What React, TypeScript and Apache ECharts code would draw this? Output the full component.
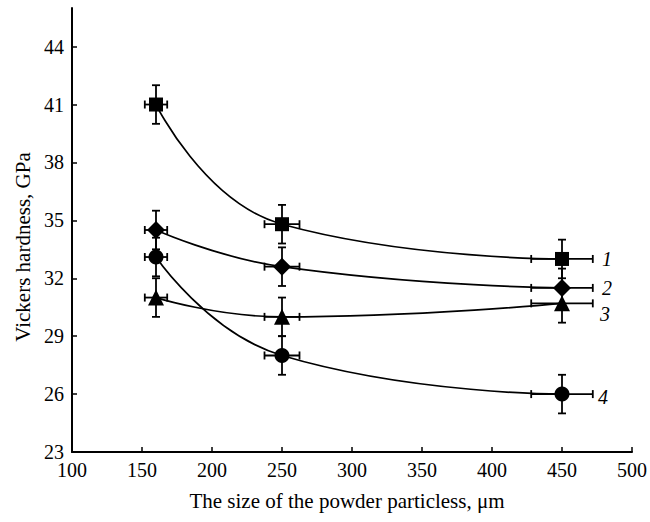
import React, { useEffect, useRef } from "react";
import * as echarts from "echarts";

const sizes = [160, 250, 450];
const sizeErr = [8, 12.5, 22];
const hardness1 = [41, 34.8, 33];
const hardness2 = [34.5, 32.6, 31.5];
const hardness3 = [31, 30, 30.7];
const hardness4 = [33.1, 28, 26];
const hardnessErr = [1, 1, 1];
const curveLabels = ["1", "2", "3", "4"];
const yTicks = [23, 26, 29, 32, 35, 38, 41, 44];

const FONT = "Liberation Serif";

export default function App() {
  const ref = useRef<HTMLDivElement>(null);
  useEffect(() => {
    document.body.style.margin = "0";
    if (!ref.current) return;
    const chart = echarts.init(ref.current, null, { renderer: "svg" });
    const allSeries = [hardness1, hardness2, hardness3, hardness4];
    const symbols = ["rect", "diamond", "triangle", "circle"];
    const symbolSizes: any[] = [14, 18, 16, 15];
    const labelOffsets = [[45, 0], [45, 0], [43, 11], [41, 3]];

    const lineSeries = allSeries.map((vals, si) => ({
      type: "line",
      smooth: 0.5,
      symbol: symbols[si],
      symbolSize: symbolSizes[si],
      z: 3,
      itemStyle: { color: "#000" },
      lineStyle: { color: "#000", width: 1.7 },
      data: vals.map((v, i) =>
        i === vals.length - 1
          ? {
              value: [sizes[i], v],
              label: {
                show: true,
                position: "inside",
                offset: labelOffsets[si],
                formatter: curveLabels[si],
                fontFamily: FONT,
                fontStyle: "italic",
                fontSize: 20,
                color: "#000",
              },
            }
          : [sizes[i], v]
      ),
    }));

    const errData: number[][] = [];
    allSeries.forEach((vals) =>
      vals.forEach((v, i) => errData.push([sizes[i], v, sizeErr[i], hardnessErr[i]]))
    );

    const errSeries = {
      type: "custom",
      z: 2,
      encode: { x: 0, y: 1 },
      data: errData,
      renderItem: (params: any, api: any) => {
        const x = api.value(0);
        const y = api.value(1);
        const ex = api.value(2);
        const ey = api.value(3);
        const l = api.coord([x - ex, y]);
        const r = api.coord([x + ex, y]);
        const t = api.coord([x, y + ey]);
        const b = api.coord([x, y - ey]);
        const cap = 4;
        const style = { stroke: "#000", lineWidth: 1.8 };
        return {
          type: "group",
          children: [
            { type: "line", shape: { x1: l[0], y1: l[1], x2: r[0], y2: r[1] }, style },
            { type: "line", shape: { x1: l[0], y1: l[1] - cap, x2: l[0], y2: l[1] + cap }, style },
            { type: "line", shape: { x1: r[0], y1: r[1] - cap, x2: r[0], y2: r[1] + cap }, style },
            { type: "line", shape: { x1: t[0], y1: t[1], x2: b[0], y2: b[1] }, style },
            { type: "line", shape: { x1: t[0] - cap, y1: t[1], x2: t[0] + cap, y2: t[1] }, style },
            { type: "line", shape: { x1: b[0] - cap, y1: b[1], x2: b[0] + cap, y2: b[1] }, style },
          ],
        };
      },
    };

    const labelStyle = { fontFamily: FONT, fontSize: 20, color: "#000" };

    chart.setOption({
      animation: false,
      backgroundColor: "#fff",
      textStyle: { fontFamily: FONT, fontSize: 20, color: "#000" },
      grid: { left: 72, right: 18, top: 8, bottom: 70 },
      xAxis: {
        type: "value",
        min: 100,
        max: 500,
        interval: 50,
        name: "The size of the powder particless, μm",
        nameLocation: "middle",
        nameGap: 38,
        nameTextStyle: { fontFamily: FONT, fontSize: 21, color: "#000", padding: [0, 10, 0, 0] },
        axisLine: { lineStyle: { color: "#000", width: 2 } },
        axisTick: { inside: true, length: 5, lineStyle: { color: "#000", width: 1.5 } },
        axisLabel: { ...labelStyle, margin: 8 },
        splitLine: { show: false },
      },
      yAxis: {
        type: "value",
        min: 23,
        max: 46,
        name: "Vickers hardness, GPa",
        nameLocation: "middle",
        nameGap: 37,
        nameTextStyle: { fontFamily: FONT, fontSize: 21, color: "#000", padding: [0, 34, 0, 0] },
        axisLine: { show: true, lineStyle: { color: "#000", width: 2 } },
        axisTick: { show: true, inside: true, length: 5, customValues: yTicks, lineStyle: { color: "#000", width: 1.5 } },
        axisLabel: { ...labelStyle, margin: 8, customValues: yTicks },
        splitLine: { show: false },
      },
      series: [errSeries, ...lineSeries],
    });
    return () => chart.dispose();
  }, []);
  return <div ref={ref} style={{ width: 650, height: 522 }} />;
}
